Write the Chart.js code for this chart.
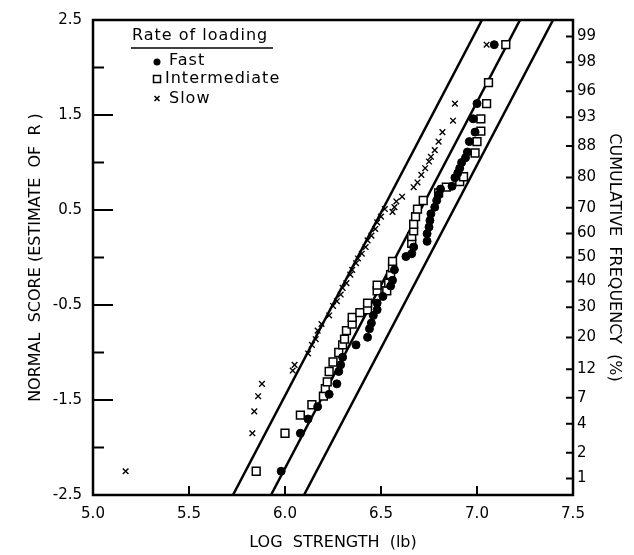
<!DOCTYPE html>
<html>
<head>
<meta charset="utf-8">
<script src="https://cdn.jsdelivr.net/npm/chart.js@4.4.1/dist/chart.umd.min.js"></script>
<style>
  html, body { margin: 0; padding: 0; background: #fff; }
  #wrap { width: 634px; height: 555px; }
</style>
</head>
<body>
<div id="wrap"><canvas id="chartCanvas" width="634" height="555"></canvas></div>
<script>
// axis ticks
const xTicks = [5.0, 5.5, 6.0, 6.5, 7.0, 7.5];
const yTicks = [-2.5, -1.5, -0.5, 0.5, 1.5, 2.5];
const yMinor = [-2, -1, 0, 1, 2];
const cumLabels = ["1", "2", "4", "7", "12", "20", "30", "40", "50", "60", "70", "80", "88", "93", "96", "98", "99"];
const cumZ = [-2.326, -2.054, -1.751, -1.476, -1.175, -0.842, -0.524, -0.253, 0, 0.253, 0.524, 0.842, 1.175, 1.476, 1.751, 2.054, 2.326];

// Fast (filled circles)
const fastX = [5.98, 6.08, 6.12, 6.17, 6.23, 6.27, 6.28, 6.29, 6.30, 6.37, 6.43, 6.44, 6.45, 6.46, 6.48, 6.48,
  6.51, 6.55, 6.56, 6.57, 6.63, 6.66, 6.67, 6.74, 6.74, 6.75, 6.755, 6.76, 6.78, 6.79, 6.80, 6.81, 6.87,
  6.885, 6.90, 6.91, 6.92, 6.94, 6.95, 6.96, 6.99, 6.98, 7.00, 7.09];
const fastZ = [-2.25, -1.85, -1.70, -1.57, -1.44, -1.33, -1.20, -1.13, -1.05, -0.92, -0.84, -0.75, -0.69, -0.61, -0.55, -0.48,
  -0.41, -0.30, -0.24, -0.13, 0.01, 0.04, 0.11, 0.17, 0.25, 0.32, 0.39, 0.46, 0.53, 0.60, 0.66, 0.72, 0.75,
  0.84, 0.89, 0.94, 1.00, 1.05, 1.11, 1.22, 1.32, 1.46, 1.62, 2.24];

// Intermediate (open squares)
const interX = [5.85, 6.00, 6.08, 6.14, 6.20, 6.21, 6.22, 6.23, 6.25, 6.28, 6.30, 6.31, 6.32, 6.35, 6.35, 6.39,
  6.43, 6.43, 6.48, 6.48, 6.53, 6.54, 6.55, 6.56, 6.56, 6.66, 6.66, 6.67, 6.67, 6.68, 6.69, 6.72, 6.80,
  6.84, 6.91, 6.93, 6.99, 7.00, 7.02, 7.02, 7.05, 7.06, 7.15];
const interZ = [-2.25, -1.85, -1.66, -1.55, -1.46, -1.38, -1.31, -1.20, -1.10, -1.00, -0.92, -0.86, -0.77, -0.70, -0.63, -0.58,
  -0.55, -0.48, -0.35, -0.29, -0.35, -0.27, -0.18, -0.11, -0.04, 0.15, 0.22, 0.28, 0.35, 0.43, 0.51, 0.60, 0.68,
  0.74, 0.80, 0.85, 1.10, 1.22, 1.33, 1.46, 1.62, 1.84, 2.24];

// Slow (crosses)
const slowX = [5.17, 5.83, 5.84, 5.86, 5.88, 6.04, 6.05, 6.12, 6.14, 6.16, 6.17, 6.19, 6.23, 6.25, 6.27, 6.29,
  6.30, 6.32, 6.34, 6.35, 6.37, 6.38, 6.40, 6.42, 6.43, 6.45, 6.47, 6.48, 6.50, 6.52, 6.56, 6.57, 6.58,
  6.61, 6.67, 6.69, 6.71, 6.73, 6.75, 6.76, 6.78, 6.80, 6.82, 6.875, 6.885, 7.05];
const slowZ = [-2.25, -1.85, -1.62, -1.46, -1.33, -1.19, -1.13, -1.01, -0.92, -0.86, -0.77, -0.70, -0.61, -0.51, -0.46, -0.39,
  -0.32, -0.27, -0.18, -0.13, -0.06, -0.01, 0.04, 0.11, 0.18, 0.23, 0.30, 0.37, 0.43, 0.51, 0.48, 0.53, 0.59,
  0.64, 0.74, 0.79, 0.87, 0.94, 1.01, 1.06, 1.13, 1.22, 1.32, 1.44, 1.62, 2.24];

// the three straight lines
const lineZ = [-2.5, 2.5];
const leftLineX = [5.729, 7.026];
const midLineX = [5.927, 7.224];
const rightLineX = [6.099, 7.396];

const pts = (xs, zs) => xs.map((x, i) => ({ x: x, y: zs[i] }));

const lineSet = (xs) => ({
  type: 'line',
  data: pts(xs, lineZ),
  borderColor: '#000',
  borderWidth: 2.5,
  pointRadius: 0,
  showLine: true,
  fill: false,
  order: 10
});

Chart.defaults.font.family = "'DejaVu Sans', sans-serif";
Chart.defaults.color = '#000';

const decor = {
  id: 'decor',
  afterDatasetsDraw(chart) {
    const { ctx, chartArea: a, scales } = chart;
    ctx.save();
    ctx.strokeStyle = '#000';
    ctx.lineWidth = 2.5;
    ctx.strokeRect(a.left, a.top, a.right - a.left, a.bottom - a.top);

    // inward tick marks
    ctx.lineWidth = 2;
    ctx.beginPath();
    yTicks.forEach(v => {
      const y = scales.y.getPixelForValue(v);
      ctx.moveTo(a.left, y); ctx.lineTo(a.left + 20, y);
    });
    yMinor.forEach(v => {
      const y = scales.y.getPixelForValue(v);
      ctx.moveTo(a.left, y); ctx.lineTo(a.left + 11, y);
    });
    xTicks.forEach(v => {
      const x = scales.x.getPixelForValue(v);
      ctx.moveTo(x, a.bottom); ctx.lineTo(x, a.bottom - 9);
    });
    cumZ.forEach(v => {
      const y = scales.y2.getPixelForValue(v);
      ctx.moveTo(a.right, y); ctx.lineTo(a.right - 7, y);
    });
    ctx.stroke();

    // legend
    ctx.fillStyle = '#000';
    ctx.font = "16px 'DejaVu Sans'";
    ctx.letterSpacing = '1px';
    ctx.textBaseline = 'middle';
    ctx.textAlign = 'left';
    ctx.fillText('Rate of loading', 132, 36);
    ctx.lineWidth = 1.5;
    ctx.beginPath();
    ctx.moveTo(131, 48); ctx.lineTo(273, 48);
    ctx.stroke();

    ctx.beginPath();
    ctx.arc(157, 62, 3.5, 0, Math.PI * 2);
    ctx.fill();
    ctx.strokeRect(153.5, 75.5, 7, 7);
    ctx.beginPath();
    ctx.moveTo(154.5, 96); ctx.lineTo(159.5, 101);
    ctx.moveTo(159.5, 96); ctx.lineTo(154.5, 101);
    ctx.stroke();
    ctx.fillText('Fast', 169, 61);
    ctx.fillText('Intermediate', 165, 79);
    ctx.fillText('Slow', 169, 99);
    ctx.restore();
  }
};

new Chart(document.getElementById('chartCanvas'), {
  type: 'scatter',
  data: {
    datasets: [
      {
        label: 'Fast',
        data: pts(fastX, fastZ),
        pointStyle: 'circle',
        pointRadius: 4,
        backgroundColor: '#000',
        borderColor: '#000',
        borderWidth: 1,
        order: 1
      },
      {
        label: 'Intermediate',
        data: pts(interX, interZ),
        pointStyle: 'rect',
        pointRadius: 5.5,
        backgroundColor: '#fff',
        borderColor: '#000',
        borderWidth: 1.5,
        order: 2
      },
      {
        label: 'Slow',
        data: pts(slowX, slowZ),
        pointStyle: 'crossRot',
        pointRadius: 4,
        borderColor: '#000',
        borderWidth: 1.4,
        order: 0
      },
      lineSet(leftLineX),
      lineSet(midLineX),
      lineSet(rightLineX)
    ]
  },
  options: {
    responsive: false,
    animation: false,
    layout: { padding: { top: 13, left: 0, right: 0, bottom: 0 } },
    plugins: {
      legend: { display: false },
      tooltip: { enabled: false }
    },
    scales: {
      x: {
        type: 'linear',
        min: 5, max: 7.5,
        grid: { display: false, drawTicks: false },
        border: { display: false },
        afterBuildTicks: s => { s.ticks = xTicks.map(v => ({ value: v })); },
        afterFit: s => { s.height = 60; },
        ticks: { padding: 10, font: { size: 15 }, callback: v => v.toFixed(1) },
        title: { display: true, text: 'LOG  STRENGTH  (lb)', font: { size: 16 }, padding: { top: 0, bottom: 3 } }
      },
      y: {
        type: 'linear',
        position: 'left',
        min: -2.5, max: 2.5,
        grid: { display: false, drawTicks: false },
        border: { display: false },
        afterBuildTicks: s => { s.ticks = yTicks.map(v => ({ value: v })); },
        afterFit: s => { s.width = 93; },
        ticks: { padding: 11, font: { size: 15 }, callback: v => v.toFixed(1) },
        title: { display: true, text: 'NORMAL  SCORE (ESTIMATE  OF  R )', font: { size: 16 }, padding: { top: 26, bottom: 0 } }
      },
      y2: {
        type: 'linear',
        position: 'right',
        min: -2.5, max: 2.5,
        grid: { display: false, drawTicks: false },
        border: { display: false },
        afterBuildTicks: s => { s.ticks = cumZ.map(v => ({ value: v })); },
        afterFit: s => { s.width = 61; },
        ticks: {
          padding: 4,
          font: { size: 15 },
          autoSkip: false,
          callback: (v, i) => cumLabels[i]
        },
        title: { display: true, text: 'CUMULATIVE  FREQUENCY  (%)', font: { size: 16 }, padding: { top: 10, bottom: 0 } }
      }
    }
  },
  plugins: [decor]
});
</script>
</body>
</html>
